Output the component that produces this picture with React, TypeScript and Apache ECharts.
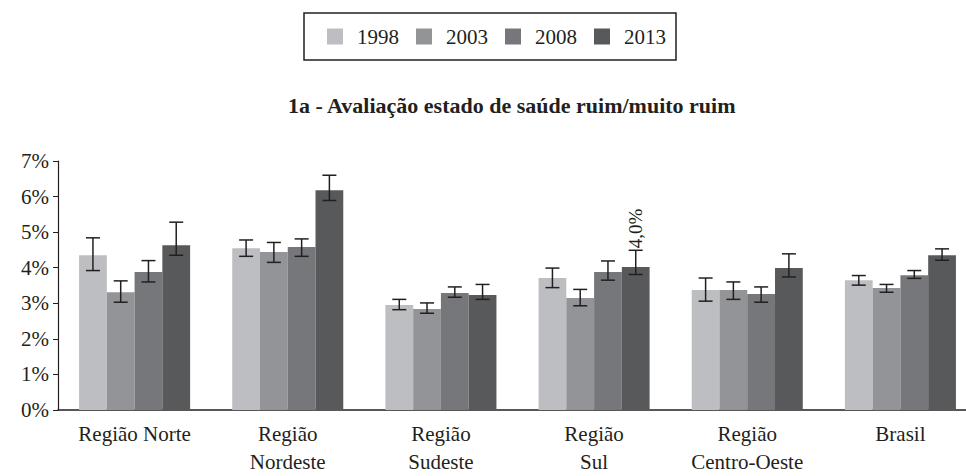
import React, { useEffect, useRef } from "react";
import * as echarts from "echarts";

const categories = [
  "Região Norte",
  "Região\nNordeste",
  "Região\nSudeste",
  "Região\nSul",
  "Região\nCentro-Oeste",
  "Brasil",
];
const years = ["1998", "2003", "2008", "2013"];
const colors = ["#bdbec2", "#939497", "#76777b", "#58595b"];

const v1998 = [4.35, 4.55, 2.95, 3.71, 3.37, 3.65];
const v2003 = [3.31, 4.44, 2.84, 3.15, 3.37, 3.43];
const v2008 = [3.88, 4.58, 3.29, 3.88, 3.26, 3.79];
const v2013 = [4.63, 6.18, 3.23, 4.02, 3.99, 4.35];

const lo1998 = [3.92, 4.32, 2.82, 3.44, 3.06, 3.51];
const hi1998 = [4.84, 4.78, 3.11, 3.99, 3.71, 3.78];
const lo2003 = [3.03, 4.15, 2.72, 2.93, 3.11, 3.31];
const hi2003 = [3.63, 4.71, 3.01, 3.39, 3.6, 3.53];
const lo2008 = [3.6, 4.32, 3.17, 3.65, 3.03, 3.7];
const hi2008 = [4.2, 4.81, 3.46, 4.19, 3.46, 3.92];
const lo2013 = [4.35, 5.89, 3.11, 3.81, 3.74, 4.21];
const hi2013 = [5.28, 6.6, 3.53, 4.49, 4.39, 4.53];

const values = [v1998, v2003, v2008, v2013];
const lows = [lo1998, lo2003, lo2008, lo2013];
const highs = [hi1998, hi2003, hi2008, hi2013];

const labelled = { series: 3, category: 3, text: "4,0%" };

const FONT = "Liberation Serif";
const INK = "#231f20";
const GAP = 0.275;

export default function App() {
  const ref = useRef<HTMLDivElement>(null);
  useEffect(() => {
    if (!ref.current) return;
    const chart = echarts.init(ref.current, null, { renderer: "svg", width: 966, height: 476 });

    const barSeries = years.map((y, i) => ({
      name: y,
      type: "bar",
      data: values[i],
      barGap: "0%",
      barCategoryGap: GAP * 100 + "%",
      itemStyle: { color: colors[i] },
      emphasis: { disabled: true },
    }));

    const errSeries = years.map((y, i) => ({
      name: y + "-err",
      type: "custom",
      z: 5,
      data: categories.map((_, k) => [k, lows[i][k], highs[i][k]]),
      renderItem: (params: any, api: any) => {
        const k = api.value(0);
        const lo = api.coord([k, api.value(1)]);
        const hi = api.coord([k, api.value(2)]);
        const catW = api.size([1, 0])[0];
        const bw = (catW * (1 - GAP)) / 4;
        const x = lo[0] + (i - 1.5) * bw;
        const cap = 7;
        const st = { stroke: INK, lineWidth: 1.5 };
        const children: any[] = [
          { type: "line", shape: { x1: x, y1: lo[1], x2: x, y2: hi[1] }, style: st },
          { type: "line", shape: { x1: x - cap, y1: lo[1], x2: x + cap, y2: lo[1] }, style: st },
          { type: "line", shape: { x1: x - cap, y1: hi[1], x2: x + cap, y2: hi[1] }, style: st },
        ];
        if (i === labelled.series && k === labelled.category) {
          children.push({
            type: "text",
            x: x,
            y: hi[1] - 2,
            rotation: Math.PI / 2,
            style: {
              text: labelled.text,
              fontFamily: FONT,
              fontSize: 19,
              fill: INK,
              align: "left",
              verticalAlign: "middle",
            },
          });
        }
        return { type: "group", children };
      },
    }));

    chart.setOption({
      animation: false,
      backgroundColor: "#ffffff",
      textStyle: { fontFamily: FONT },
      title: {
        text: "1a - Avaliação estado de saúde ruim/muito ruim",
        left: 288,
        top: 94,
        padding: 0,
        textStyle: { fontFamily: FONT, fontSize: 22, fontWeight: "bold", color: INK },
      },
      legend: {
        data: years,
        left: 304,
        top: 13,
        padding: [13, 10, 13, 23],
        borderColor: INK,
        borderWidth: 1.5,
        itemWidth: 16,
        itemHeight: 16,
        itemGap: 17,
        icon: "rect",
        selectedMode: false,
        textStyle: { fontFamily: FONT, fontSize: 21, color: INK, padding: [0, 0, 0, 9] },
      },
      grid: {
        left: 58,
        top: 161,
        width: 919,
        height: 249,
        containLabel: false,
        outerBoundsMode: "none",
      },
      xAxis: {
        type: "category",
        data: categories,
        axisLine: { lineStyle: { color: INK, width: 1.5 } },
        axisTick: { show: false },
        axisLabel: {
          fontFamily: FONT,
          fontSize: 21,
          color: INK,
          margin: 10,
          lineHeight: 28,
          interval: 0,
          verticalAlign: "top",
          hideOverlap: false,
        },
      },
      yAxis: {
        type: "value",
        min: 0,
        max: 7,
        interval: 1,
        splitLine: { show: false },
        axisLine: { show: true, lineStyle: { color: INK, width: 1.2 } },
        axisTick: { show: true, length: 5, lineStyle: { color: INK } },
        axisLabel: {
          formatter: "{value}%",
          fontFamily: FONT,
          fontSize: 21,
          color: INK,
          margin: 9,
        },
      },
      series: [...barSeries, ...errSeries],
    });
    return () => chart.dispose();
  }, []);
  return (
    <div
      ref={ref}
      style={{ position: "absolute", left: 0, top: 0, width: 966, height: 476, overflow: "hidden" }}
    />
  );
}
